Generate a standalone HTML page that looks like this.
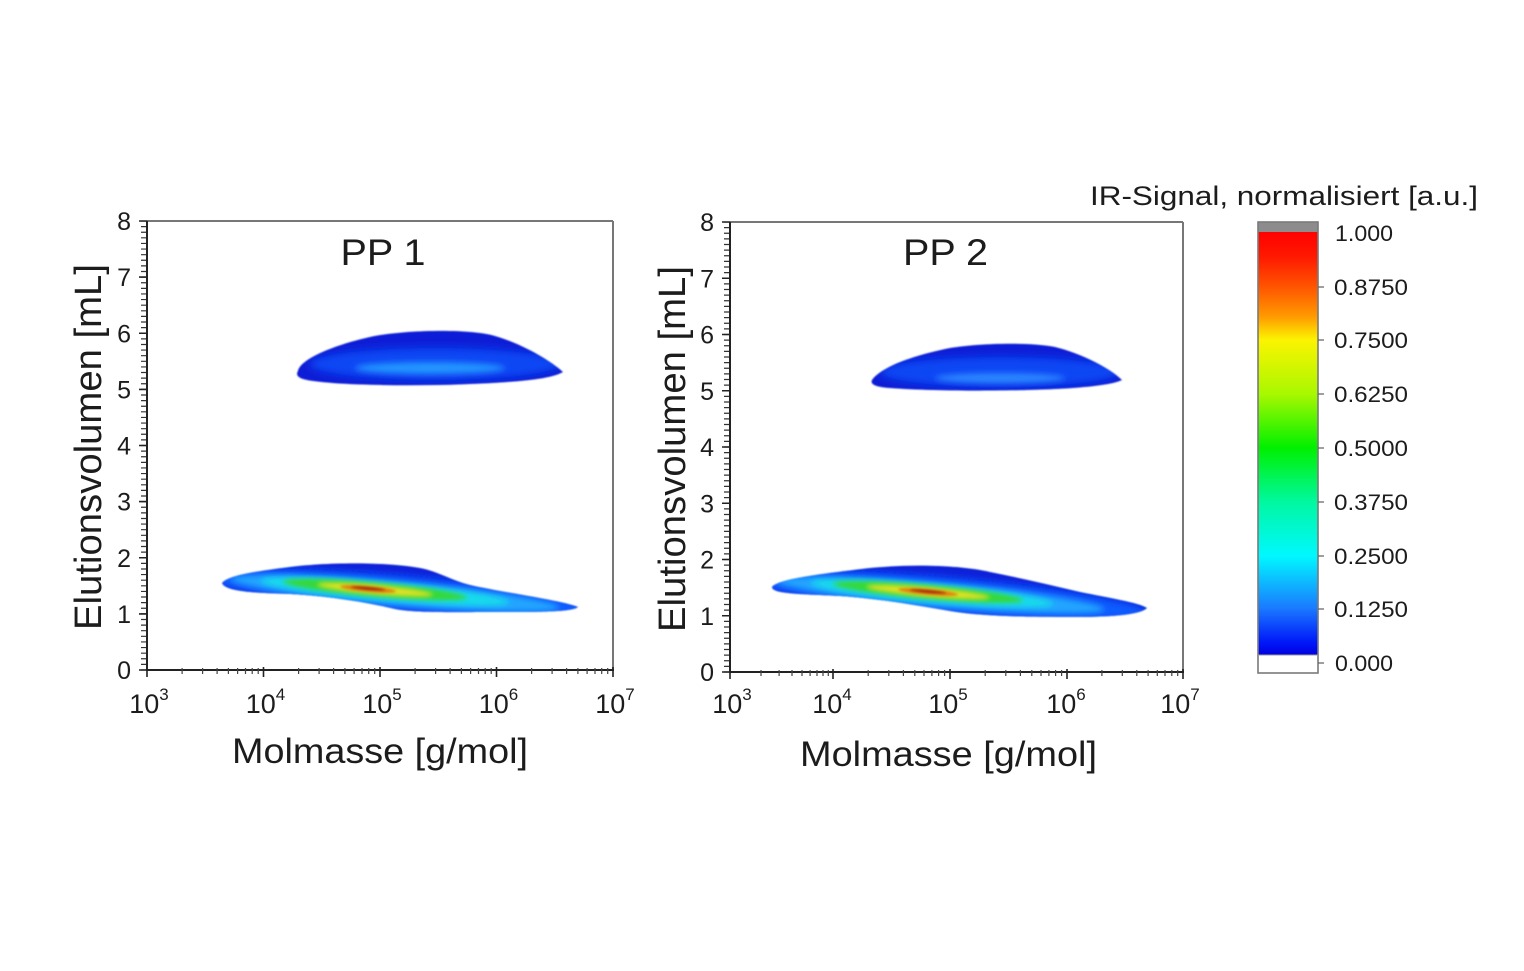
<!DOCTYPE html>
<html><head><meta charset="utf-8"><style>
html,body{margin:0;padding:0;background:#fff;}
svg{display:block;}
text{font-family:"Liberation Sans",Arial,sans-serif;fill:#1c1c1c;}
</style></head><body>
<svg width="1524" height="971" viewBox="0 0 1524 971" xmlns="http://www.w3.org/2000/svg">
<defs>
 <filter id="b4" x="-50%" y="-50%" width="200%" height="200%"><feGaussianBlur stdDeviation="4"/></filter>
 <filter id="b3" x="-50%" y="-50%" width="200%" height="200%"><feGaussianBlur stdDeviation="3"/></filter>
 <filter id="b2" x="-50%" y="-50%" width="200%" height="200%"><feGaussianBlur stdDeviation="2"/></filter>
 <filter id="b1" x="-50%" y="-50%" width="200%" height="200%"><feGaussianBlur stdDeviation="1"/></filter>
 <filter id="b07" x="-10%" y="-50%" width="120%" height="200%"><feGaussianBlur stdDeviation="0.7"/></filter>
 <linearGradient id="cb" x1="0" y1="0" x2="0" y2="1">
  <stop offset="0" stop-color="#ff0000"/>
  <stop offset="0.06" stop-color="#ff1a00"/>
  <stop offset="0.13" stop-color="#ff5500"/>
  <stop offset="0.2" stop-color="#ff9a00"/>
  <stop offset="0.255" stop-color="#fcf400"/>
  <stop offset="0.383" stop-color="#a8f800"/>
  <stop offset="0.51" stop-color="#00f000"/>
  <stop offset="0.638" stop-color="#00f8a0"/>
  <stop offset="0.766" stop-color="#00f8ff"/>
  <stop offset="0.891" stop-color="#1a78ff"/>
  <stop offset="0.97" stop-color="#0018f8"/>
  <stop offset="1" stop-color="#0000e0"/>
 </linearGradient>
 <path id="pA" d="M298,371 C300,360 330,346 370,337 C400,330 470,328 495,336 C520,343 550,360 563,372 C550,380 510,383 440,385 C380,386 320,384 303,379 C297,377 296,374 298,371 Z"/>
 <path id="pB" d="M222,583 C228,576 250,572 290,567 C320,563 380,561 420,568 C440,572 450,580 470,585 C500,592 560,600 578,607 C572,612 540,612 500,612 C450,612 415,613 395,609 C370,603 330,596 290,594 C250,593 225,591 222,583 Z"/>
 <path id="pC" d="M872,380 C880,368 910,356 950,348 C980,343 1030,342 1055,347 C1080,353 1110,368 1122,380 C1110,386 1070,389 1027,390 C990,391 930,391 890,388 C875,387 870,384 872,380 Z"/>
 <path id="pD" d="M772,587 C778,579 820,574 870,568 C910,564 960,565 990,572 C1020,578 1050,585 1080,592 C1110,598 1140,603 1147,608 C1140,615 1110,617 1070,617 C1020,617 980,616 950,611 C910,604 880,599 840,596 C800,594 772,594 772,587 Z"/>
 <clipPath id="cA"><use href="#pA"/></clipPath>
 <clipPath id="cB"><use href="#pB"/></clipPath>
 <clipPath id="cC"><use href="#pC"/></clipPath>
 <clipPath id="cD"><use href="#pD"/></clipPath>
</defs>

<rect x="0" y="0" width="1524" height="971" fill="#fff"/>

<!-- ===== LEFT PLOT (PP 1) ===== -->
<g filter="url(#b07)">
 <use href="#pA" fill="#0a1ed6"/>
 <g clip-path="url(#cA)">
  <ellipse cx="435" cy="364" rx="125" ry="16" fill="#0c46f4" filter="url(#b4)"/>
  <ellipse cx="430" cy="368" rx="75" ry="6" fill="#2494ff" filter="url(#b3)"/>
 </g>
</g>
<g filter="url(#b07)">
 <use href="#pB" fill="#0a20d8"/>
 <g clip-path="url(#cB)">
  <g transform="rotate(5 380 590)">
   <ellipse cx="400" cy="592" rx="200" ry="18" fill="#0e5cff" filter="url(#b4)"/>
   <ellipse cx="395" cy="592" rx="165" ry="11.5" fill="#20a4ff" filter="url(#b3)"/>
   <ellipse cx="385" cy="591" rx="125" ry="9" fill="#14dcea" filter="url(#b3)"/>
   <ellipse cx="375" cy="590" rx="92" ry="7" fill="#34d838" filter="url(#b2)"/>
   <ellipse cx="375" cy="590" rx="58" ry="4.5" fill="#e2e224" filter="url(#b2)"/>
   <ellipse cx="368" cy="590" rx="28" ry="3" fill="#e08010" filter="url(#b1)"/>
   <ellipse cx="368" cy="589.5" rx="17" ry="1.5" fill="#a02808" filter="url(#b1)"/>
  </g>
 </g>
</g>

<line x1="147" y1="221" x2="613" y2="221" stroke="#777" stroke-width="2"/>
<line x1="613" y1="221" x2="613" y2="670" stroke="#777" stroke-width="2"/>
<line x1="147" y1="221" x2="147" y2="671" stroke="#222" stroke-width="2"/>
<line x1="146" y1="670" x2="614" y2="670" stroke="#222" stroke-width="2"/>
<line x1="143.5" y1="670.6" x2="143.5" y2="221" stroke="#333" stroke-width="5" stroke-dasharray="1.2 4.4125"/>
<path d="M139,670H147M139,613.9H147M139,557.75H147M139,501.6H147M139,445.5H147M139,389.4H147M139,333.25H147M139,277.1H147M139,221H147" stroke="#222" stroke-width="1.6"/>
<path d="M182.1,668V674M202.6,668V674M217.1,668V674M228.4,668V674M237.6,668V674M245.5,668V674M252.2,668V674M258.2,668V674M298.6,668V674M319.1,668V674M333.6,668V674M344.9,668V674M354.1,668V674M362,668V674M368.7,668V674M374.7,668V674M415.1,668V674M435.6,668V674M450.1,668V674M461.4,668V674M470.6,668V674M478.5,668V674M485.2,668V674M491.2,668V674M531.6,668V674M552.1,668V674M566.6,668V674M577.9,668V674M587.1,668V674M595,668V674M601.7,668V674M607.7,668V674" stroke="#444" stroke-width="1.2"/>
<path d="M147,667V677M263.5,667V677M380,667V677M496.5,667V677M613,667V677" stroke="#222" stroke-width="1.6"/>
<g font-size="25" text-anchor="end">
 <text x="131" y="679">0</text><text x="131" y="622.9">1</text><text x="131" y="566.75">2</text>
 <text x="131" y="510.6">3</text><text x="131" y="454.5">4</text><text x="131" y="398.4">5</text>
 <text x="131" y="342.25">6</text><text x="131" y="286.1">7</text><text x="131" y="230">8</text>
</g>
<g font-size="27" text-anchor="middle">
 <text x="149" y="713">10<tspan font-size="17" dy="-13">3</tspan></text>
 <text x="265.5" y="713">10<tspan font-size="17" dy="-13">4</tspan></text>
 <text x="382" y="713">10<tspan font-size="17" dy="-13">5</tspan></text>
 <text x="498.5" y="713">10<tspan font-size="17" dy="-13">6</tspan></text>
 <text x="615" y="713">10<tspan font-size="17" dy="-13">7</tspan></text>
</g>
<text x="380" y="763" font-size="35" text-anchor="middle" textLength="296" lengthAdjust="spacingAndGlyphs">Molmasse [g/mol]</text>
<text transform="translate(101 447) rotate(-90)" font-size="38" text-anchor="middle" textLength="366" lengthAdjust="spacingAndGlyphs">Elutionsvolumen [mL]</text>
<text x="383" y="265" font-size="37" text-anchor="middle" textLength="85" lengthAdjust="spacingAndGlyphs">PP 1</text>

<!-- ===== RIGHT PLOT (PP 2) ===== -->
<g filter="url(#b07)">
 <use href="#pC" fill="#0a1ed6"/>
 <g clip-path="url(#cC)">
  <ellipse cx="1000" cy="372" rx="120" ry="15" fill="#0c46f4" filter="url(#b4)"/>
  <ellipse cx="1000" cy="378" rx="65" ry="5" fill="#2a86ff" filter="url(#b3)"/>
 </g>
</g>
<g filter="url(#b07)">
 <use href="#pD" fill="#0a20d8"/>
 <g clip-path="url(#cD)">
  <g transform="rotate(5 928 592)">
   <ellipse cx="945" cy="594" rx="205" ry="18" fill="#0e5cff" filter="url(#b4)"/>
   <ellipse cx="940" cy="594" rx="165" ry="11.5" fill="#20a4ff" filter="url(#b3)"/>
   <ellipse cx="932" cy="593" rx="122" ry="9" fill="#14dcea" filter="url(#b3)"/>
   <ellipse cx="928" cy="592" rx="95" ry="7" fill="#34d838" filter="url(#b2)"/>
   <ellipse cx="928" cy="592" rx="62" ry="4.5" fill="#e2e224" filter="url(#b2)"/>
   <ellipse cx="928" cy="592" rx="30" ry="3" fill="#e08010" filter="url(#b1)"/>
   <ellipse cx="928" cy="591.5" rx="18" ry="1.5" fill="#a02808" filter="url(#b1)"/>
  </g>
 </g>
</g>

<line x1="730" y1="222" x2="1183" y2="222" stroke="#777" stroke-width="2"/>
<line x1="1183" y1="222" x2="1183" y2="672" stroke="#777" stroke-width="2"/>
<line x1="730" y1="222" x2="730" y2="673" stroke="#222" stroke-width="2"/>
<line x1="729" y1="672" x2="1184" y2="672" stroke="#222" stroke-width="2"/>
<line x1="726.5" y1="672.6" x2="726.5" y2="222" stroke="#333" stroke-width="5" stroke-dasharray="1.2 4.425"/>
<path d="M722,672H730M722,615.75H730M722,559.5H730M722,503.25H730M722,447H730M722,390.75H730M722,334.5H730M722,278.25H730M722,222H730" stroke="#222" stroke-width="1.6"/>
<path d="M761,670V676M779.1,670V676M792,670V676M802,670V676M810.1,670V676M817,670V676M823,670V676M828.3,670V676M868.2,670V676M888.8,670V676M903.4,670V676M914.8,670V676M924,670V676M931.9,670V676M938.6,670V676M944.6,670V676M985.2,670V676M1005.8,670V676M1020.4,670V676M1031.8,670V676M1041,670V676M1048.9,670V676M1055.6,670V676M1061.6,670V676M1101.9,670V676M1122.3,670V676M1136.8,670V676M1148.1,670V676M1157.3,670V676M1165,670V676M1171.8,670V676M1177.7,670V676" stroke="#444" stroke-width="1.2"/>
<path d="M730,669V679M833,669V679M950,669V679M1067,669V679M1183,669V679" stroke="#222" stroke-width="1.6"/>
<g font-size="25" text-anchor="end">
 <text x="714" y="681">0</text><text x="714" y="624.75">1</text><text x="714" y="568.5">2</text>
 <text x="714" y="512.25">3</text><text x="714" y="456">4</text><text x="714" y="399.75">5</text>
 <text x="714" y="343.5">6</text><text x="714" y="287.25">7</text><text x="714" y="231">8</text>
</g>
<g font-size="27" text-anchor="middle">
 <text x="732" y="713">10<tspan font-size="17" dy="-13">3</tspan></text>
 <text x="832" y="713">10<tspan font-size="17" dy="-13">4</tspan></text>
 <text x="948" y="713">10<tspan font-size="17" dy="-13">5</tspan></text>
 <text x="1066" y="713">10<tspan font-size="17" dy="-13">6</tspan></text>
 <text x="1180" y="713">10<tspan font-size="17" dy="-13">7</tspan></text>
</g>
<text x="948.5" y="766" font-size="35" text-anchor="middle" textLength="297" lengthAdjust="spacingAndGlyphs">Molmasse [g/mol]</text>
<text transform="translate(685 449) rotate(-90)" font-size="38" text-anchor="middle" textLength="366" lengthAdjust="spacingAndGlyphs">Elutionsvolumen [mL]</text>
<text x="945.5" y="265" font-size="37" text-anchor="middle" textLength="85" lengthAdjust="spacingAndGlyphs">PP 2</text>

<!-- ===== COLORBAR ===== -->
<text x="1090" y="205" font-size="27" textLength="388" lengthAdjust="spacingAndGlyphs">IR-Signal, normalisiert [a.u.]</text>
<rect x="1258" y="222" width="60" height="10" fill="#8c8c8c"/>
<rect x="1258" y="232" width="60" height="423" fill="url(#cb)"/>
<rect x="1258" y="655" width="60" height="18" fill="#fff"/>
<rect x="1258" y="222" width="60" height="451" fill="none" stroke="#7a7a7a" stroke-width="1.6"/>
<line x1="1258" y1="655" x2="1318" y2="655" stroke="#9a9a9a" stroke-width="1"/>
<path d="M1318,287H1324M1318,340H1324M1318,394H1324M1318,448H1324M1318,502H1324M1318,556H1324M1318,609H1324M1318,663H1324" stroke="#666" stroke-width="1.2"/>
<g font-size="22">
 <text x="1335" y="241" textLength="58" lengthAdjust="spacingAndGlyphs">1.000</text>
 <text x="1334" y="295" textLength="74" lengthAdjust="spacingAndGlyphs">0.8750</text>
 <text x="1334" y="348" textLength="74" lengthAdjust="spacingAndGlyphs">0.7500</text>
 <text x="1334" y="402" textLength="74" lengthAdjust="spacingAndGlyphs">0.6250</text>
 <text x="1334" y="456" textLength="74" lengthAdjust="spacingAndGlyphs">0.5000</text>
 <text x="1334" y="510" textLength="74" lengthAdjust="spacingAndGlyphs">0.3750</text>
 <text x="1334" y="564" textLength="74" lengthAdjust="spacingAndGlyphs">0.2500</text>
 <text x="1334" y="617" textLength="74" lengthAdjust="spacingAndGlyphs">0.1250</text>
 <text x="1335" y="671" textLength="58" lengthAdjust="spacingAndGlyphs">0.000</text>
</g>
</svg>
</body></html>
